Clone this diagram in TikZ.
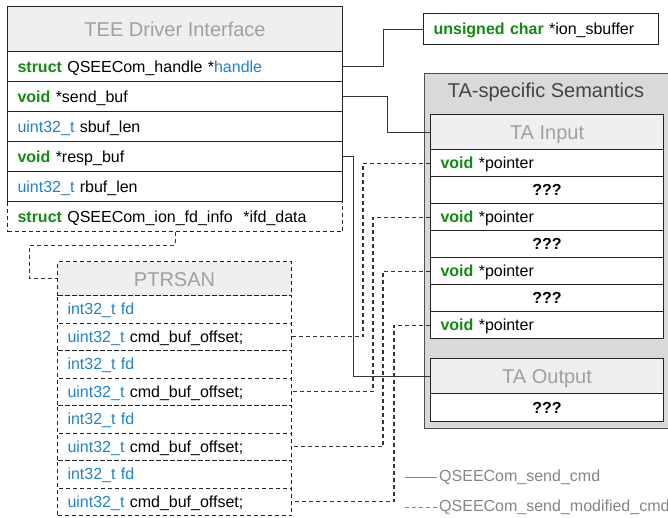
\documentclass[tikz,border=0pt]{standalone}
\usepackage{fontspec}
\setmainfont{Liberation Sans}

\definecolor{kwgreen}{HTML}{138A13}
\definecolor{tyblue}{HTML}{1F82D2}
\definecolor{hdfill}{HTML}{EFEFEF}
\definecolor{hdtext}{HTML}{A0A0A0}
\definecolor{semfill}{HTML}{D9D9D9}
\definecolor{semtext}{HTML}{444444}
\definecolor{edge}{HTML}{222222}
\definecolor{wire}{HTML}{333333}
\definecolor{legtext}{HTML}{858585}

\newcommand{\kwd}[1]{\textcolor{kwgreen}{\textbf{#1}}}
\newcommand{\typ}[1]{\textcolor{tyblue}{#1}}

\tikzset{
  field/.style={draw=edge, fill=white, line width=1.1pt, anchor=north west,
    inner xsep=10pt, inner ysep=0pt, align=left,
    font=\fontsize{16}{18}\selectfont, text height=13pt, text depth=2pt},
  teefield/.style={field, text width=315pt, minimum height=30pt},
  tafield/.style={field, text width=213pt, minimum height=27pt},
  ptrfield/.style={field, text width=214pt, minimum height=27.5pt, dotdash},
  dotdash/.style={dash pattern=on 4pt off 3pt},
  header/.style={draw=edge, fill=hdfill, line width=1.1pt, anchor=north west,
    inner sep=0pt, text=hdtext, font=\fontsize{20}{22}\selectfont,
    text height=15pt, text depth=0pt},
  link/.style={draw=wire, line width=1.1pt},
  legend/.style={anchor=west, inner sep=2pt, text=legtext,
    font=\fontsize{16}{18}\selectfont},
}

\begin{document}
\begin{tikzpicture}[x=1pt,y=-1pt]
\useasboundingbox (0,0) rectangle (668,517);

% ion buffer
\node[field, text width=215pt, minimum height=31pt] (ion) at (423,13)
  {\kwd{unsigned char} *ion\_sbuffer};

% TEE driver interface
\node[header, minimum width=335pt, minimum height=45pt] (teeh) at (7,6) {TEE Driver Interface};
\node[teefield] (handle)  at (7,51)  {\kwd{struct} QSEECom\_handle *\typ{handle}};
\node[teefield] (sendbuf) at (7,81)  {\kwd{void} *send\_buf};
\node[teefield] (sbuflen) at (7,111) {\typ{uint32\_t} sbuf\_len};
\node[teefield] (respbuf) at (7,141) {\kwd{void} *resp\_buf};
\node[teefield] (rbuflen) at (7,171) {\typ{uint32\_t} rbuf\_len};
\node[teefield, dotdash] (ifd) at (7,201) {\kwd{struct} QSEECom\_ion\_fd\_info\ \ *ifd\_data};

% TA-specific semantics
\node[draw=edge!80, fill=semfill, line width=1.1pt, anchor=north west,
  minimum width=243.5pt, minimum height=355pt, inner sep=0pt] (sem) at (424,73) {};
\node[text=semtext, font=\fontsize{20}{22}\selectfont, inner sep=0pt] (semtitle) at (546,92)
  {TA-specific Semantics};

\node[header, minimum width=233pt, minimum height=35pt] (tainh) at (430,114) {TA Input};
\foreach \i in {1,2,3,4}{
  \node[tafield] (ptr\i) at (430,{149+(\i-1)*54}) {\kwd{void} *pointer};
}
\foreach \i in {1,2,3}{
  \node[tafield, align=center] (q\i) at (430,{176+(\i-1)*54}) {\textbf{???}};
}
\node[header, minimum width=233pt, minimum height=35pt] (taouth) at (430,358) {TA Output};
\node[tafield, minimum height=28pt, align=center] (qout) at (430,393) {\textbf{???}};

% PTRSAN
\node[header, dotdash, minimum width=234pt, minimum height=34pt] (ptrh) at (57,261) {PTRSAN};
\foreach \i in {1,2,3,4}{
  \node[ptrfield] (fd\i)  at (57,{295+(\i-1)*55})   {\typ{int32\_t fd}};
  \node[ptrfield] (off\i) at (57,{322.5+(\i-1)*55}) {\typ{uint32\_t} cmd\_buf\_offset;};
}

% connectors
\draw[link] (handle.east)  -- ++(40,0) |- (ion.west);
\draw[link] (sendbuf.east) -- ++(44,0) |- (tainh.west);
\draw[link] (respbuf.east) -- ++(10,0) |- (taouth.west);
\foreach \i/\d in {1/67,2/57,3/47,4/36}{
  \draw[link, dotdash] (ptr\i.west) -- ++(-\d,0) |- (off\i.east);
}
\draw[link, dotdash] (ifd.south) -- ++(0,13) -- ++(-145.5,0) |- (ptrh.west);

% legend
\node[legend] (leg1) at (437,477) {QSEECom\_send\_cmd};
\node[legend] (leg2) at (437,507) {QSEECom\_send\_modified\_cmd};
\draw[draw=legtext, line width=1pt] (leg1.west) -- ++(-32,0);
\draw[draw=legtext, line width=1pt, dotdash] (leg2.west) -- ++(-32,0);
\end{tikzpicture}
\end{document}
